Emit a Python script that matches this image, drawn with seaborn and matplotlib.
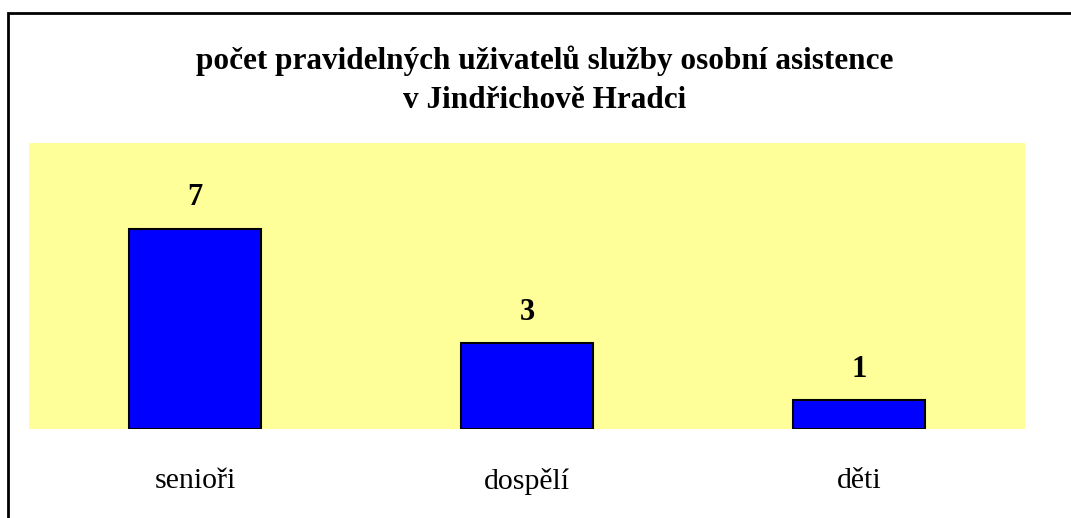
import matplotlib
matplotlib.use("Agg")
import matplotlib.pyplot as plt
import seaborn as sns
import pandas as pd
from matplotlib.patches import Rectangle

# data
categories = ["senioři", "dospělí", "děti"]
users = [7, 3, 1]
title = "počet pravidelných uživatelů služby osobní asistence\nv Jindřichově Hradci"

sns.set_theme(style="white")
plt.rcParams["font.family"] = ["Liberation Serif", "DejaVu Serif"]
plt.rcParams["text.color"] = "black"
plt.rcParams["xtick.color"] = "black"

W, H = 1071, 518
fig = plt.figure(figsize=(W / 100, H / 100), dpi=100)
ax = fig.add_axes([29 / W, (H - 429) / H, (1025 - 29) / W, (429 - 143) / H])

df = pd.DataFrame({"group": categories, "count": users})
sns.barplot(data=df, x="group", y="count", ax=ax, color="#0000FF",
            width=0.4, edgecolor="black", linewidth=1.5, saturation=1)

ax.set_facecolor("#FFFF99")
ax.set_xlim(-0.5, 2.5)
ax.set_ylim(0, 10)
ax.set_yticks([])
ax.set_xlabel("")
ax.set_ylabel("")
for s in ax.spines.values():
    s.set_visible(False)
ax.tick_params(axis="x", length=0, pad=28, labelsize=21.5, labelcolor="black")

for c in ax.containers:
    ax.bar_label(c, fmt="%d", padding=12, fontsize=22, fontweight="bold",
                 color="black")

fig.text(545 / W, 1 - 80 / H, title, ha="center", va="center",
         fontsize=22.5, fontweight="bold", linespacing=1.45, color="black")

# chart frame, its right and bottom edges fall outside the picture
fig.patches.append(Rectangle((8 / W, -0.1), 1.2, 1 - 13 / H + 0.1,
                             transform=fig.transFigure, fill=False,
                             edgecolor="black", linewidth=2))

fig.savefig("out.png", dpi=100, facecolor="white")
